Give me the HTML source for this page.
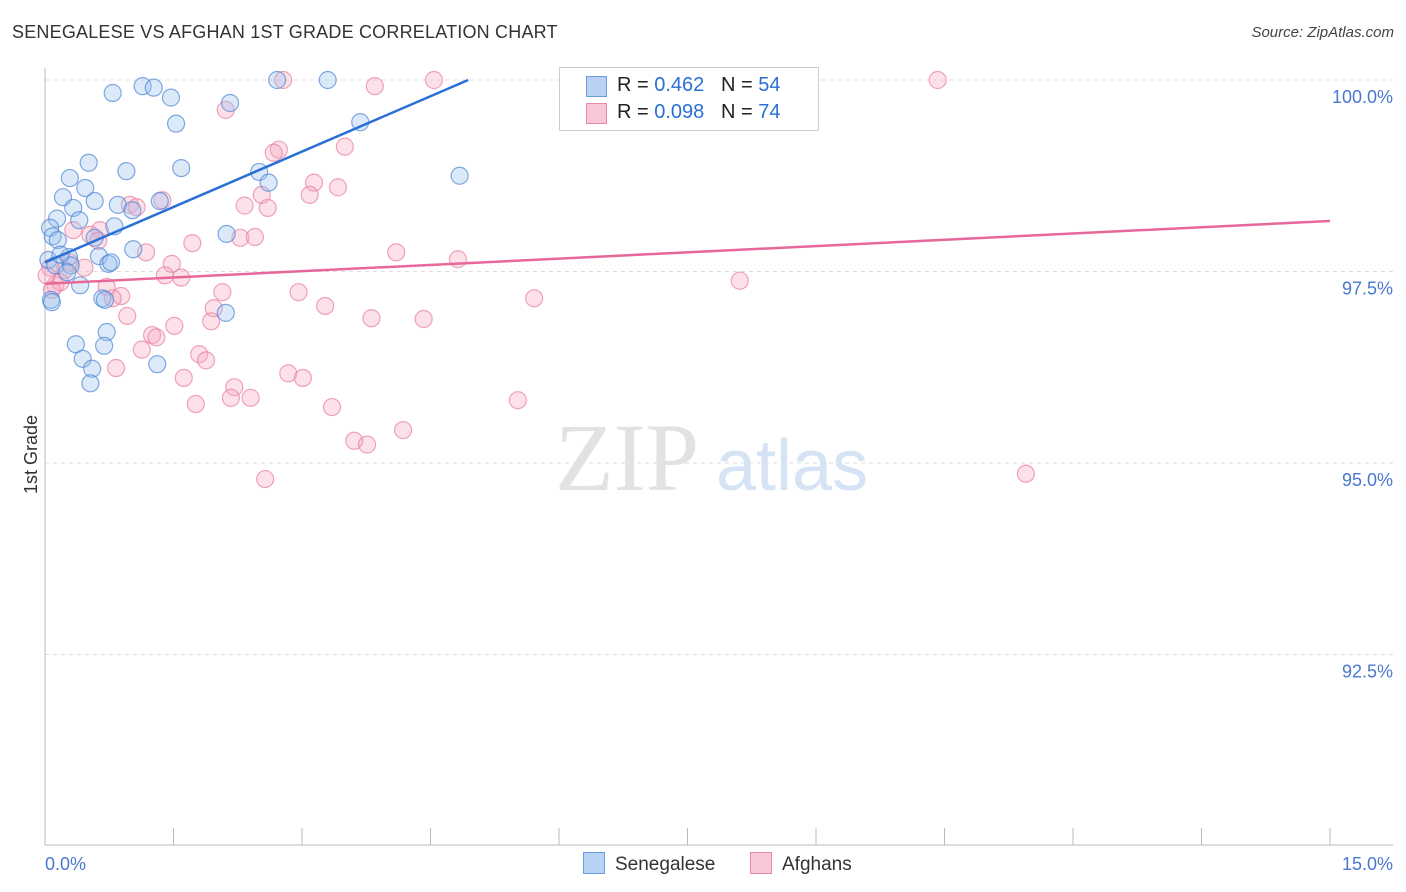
<!DOCTYPE html>
<html><head><meta charset="utf-8">
<style>
body{margin:0;background:#fff;font-family:"Liberation Sans",sans-serif;}
#wrap{position:relative;width:1406px;height:892px;overflow:hidden;}
.t{position:absolute;white-space:nowrap;}
</style></head>
<body>
<div id="wrap">
<div class="t" style="left:12px;top:22px;font-size:18px;color:#333;letter-spacing:0.2px">SENEGALESE VS AFGHAN 1ST GRADE CORRELATION CHART</div>
<div class="t" style="right:12px;top:24px;font-size:15px;color:#444;font-style:italic">Source: ZipAtlas.com</div>
<div class="t" style="left:-8px;top:444px;font-size:18px;color:#333;transform:rotate(-90deg)">1st Grade</div>
<svg id="svg" width="1406" height="892" style="position:absolute;left:0;top:0"></svg>
</div>
<script>
const blueX=[0.79,1.14,1.27,1.47,1.53,2.16,2.71,3.30,3.68,4.84,0.51,0.95,1.59,0.29,0.47,0.21,0.58,0.85,1.02,1.34,0.14,0.33,0.40,0.06,0.09,0.15,0.81,0.58,1.03,2.12,2.50,2.61,0.04,0.28,0.63,0.74,0.77,0.30,0.12,0.41,0.67,0.70,0.07,0.08,2.11,0.72,0.36,0.69,0.44,0.55,0.53,1.31,0.26,0.18];
const blueY=[99.83,99.92,99.90,99.77,99.43,99.70,100,100,99.45,98.75,98.92,98.81,98.85,98.72,98.59,98.47,98.42,98.37,98.30,98.42,98.19,98.33,98.17,98.07,97.96,97.91,98.09,97.94,97.79,97.99,98.80,98.66,97.65,97.69,97.70,97.60,97.62,97.58,97.58,97.32,97.15,97.13,97.13,97.10,96.96,96.71,96.55,96.53,96.36,96.23,96.04,96.29,97.49,97.72];
const pinkX=[2.78,4.54,6.88,8.78,10.42,3.85,2.11,2.73,2.67,3.50,3.14,3.42,3.09,2.53,2.33,2.60,0.99,1.07,1.37,2.28,2.45,1.72,1.18,0.64,0.53,0.33,4.10,4.82,8.11,1.48,1.59,1.40,0.46,0.23,0.06,0.12,0.72,0.89,0.79,2.07,1.97,1.94,2.96,3.27,3.81,4.42,5.71,0.96,1.51,1.25,1.30,1.13,1.80,1.88,0.83,1.62,2.84,3.01,2.21,2.17,2.40,1.76,3.35,5.52,3.61,3.76,4.18,2.57,11.45,0.62,0.18,0.08,0.29,0.02];
const pinkY=[100,100,100,100,100,99.92,99.61,99.09,99.05,99.13,98.66,98.60,98.50,98.50,98.36,98.33,98.37,98.34,98.43,97.94,97.95,97.87,97.75,98.04,97.98,98.04,97.75,97.66,97.38,97.60,97.42,97.45,97.55,97.52,97.55,97.32,97.30,97.18,97.15,97.23,97.02,96.85,97.23,97.05,96.89,96.88,97.15,96.92,96.79,96.67,96.64,96.48,96.42,96.34,96.24,96.11,96.17,96.11,95.99,95.85,95.85,95.77,95.73,95.82,95.29,95.24,95.43,94.79,94.86,97.90,97.36,97.26,97.62,97.45];
const blueTrend=[0,97.62,4.94,100];
const pinkTrend=[0,97.34,15,98.16];
const yTicks=[100,97.5,95,92.5];
const yTickLabels=["100.0%","97.5%","95.0%","92.5%"];
const xTickLabels=["0.0%","15.0%"];

const NS="http://www.w3.org/2000/svg";
const svg=document.getElementById('svg');
const X=v=>45+v*(1285/15);
const Y=v=>80+(100-v)*76.6;
function mk(tag,attrs,parent){const e=document.createElementNS(NS,tag);for(const k in attrs)e.setAttribute(k,attrs[k]);(parent||svg).appendChild(e);return e;}
// gridlines
yTicks.forEach((t,i)=>{
 const g=mk('line',{x1:45,x2:1393,y1:Y(t),y2:Y(t),stroke:'#ddd','stroke-dasharray':'4,4'});
 
 
 const tx=mk('text',{x:1393,y:Y(t)+23,'text-anchor':'end','font-size':18,fill:'#4a78d0','font-family':'Liberation Sans, sans-serif'});
 tx.textContent=yTickLabels[i];
 
 
});
mk('line',{x1:45,x2:45,y1:68,y2:845,stroke:'#bbb'});
mk('line',{x1:45,x2:1393,y1:845,y2:845,stroke:'#bbb'});
for(let i=0;i<=10;i++){
 const tk=mk('line',{x1:X(i*1.5),x2:X(i*1.5),y1:828,y2:845,stroke:'#bbb'});
 
 
}
[[0,'start'],[15,'end']].forEach((p,i)=>{
 const tx=mk('text',{x:i?1393:45,y:870,'text-anchor':p[1],'font-size':18,fill:'#4a78d0','font-family':'Liberation Sans, sans-serif'});
 tx.textContent=xTickLabels[i];
 
 
});
// watermark
const wm=mk('text',{x:555,y:490,'font-size':96,fill:'#e2e2e2','font-family':'Liberation Serif, serif'});wm.textContent='ZIP';


const wm2=mk('text',{x:716,y:490,'font-size':72,fill:'#d6e3f5','font-family':'Liberation Sans, sans-serif'});wm2.textContent='atlas';


function pts(xs,ys,fill,stroke,name){
 xs.forEach((x,i)=>{
  const c=mk('circle',{cx:X(x),cy:Y(ys[i]),r:8.5,fill:fill,'fill-opacity':0.35,stroke:stroke,'stroke-opacity':0.7,'stroke-width':1.2});
  
  
 });
}
pts(pinkX,pinkY,'#f5a8c0','#e87fa0','afghan-point');
pts(blueX,blueY,'#9cc0ee','#4d86d6','senegalese-point');
const bl=mk('line',{x1:X(blueTrend[0]),y1:Y(blueTrend[1]),x2:X(blueTrend[2]),y2:Y(blueTrend[3]),stroke:'#2a6fd6','stroke-width':2.5});


const pl=mk('line',{x1:X(pinkTrend[0]),y1:Y(pinkTrend[1]),x2:X(pinkTrend[2]),y2:Y(pinkTrend[3]),stroke:'#e8679a','stroke-width':2.5});


</script>
<div class="t" style="left:559px;top:67px;width:258px;height:62px;border:1px solid #ccc;background:#fff;font-size:20px;color:#222">
 <div style="position:absolute;left:26px;top:8px;width:19px;height:19px;background:#b8d2f4;border:1px solid #6b9be0"></div>
 <div style="position:absolute;left:57px;top:6px">R = <span style="color:#2a6fd6">0.462</span>&nbsp;&nbsp;&nbsp;N = <span style="color:#2a6fd6">54</span></div>
 <div style="position:absolute;left:26px;top:35px;width:19px;height:19px;background:#f9c6d6;border:1px solid #ea8aaa"></div>
 <div style="position:absolute;left:57px;top:33px">R = <span style="color:#2a6fd6">0.098</span>&nbsp;&nbsp;&nbsp;N = <span style="color:#2a6fd6">74</span></div>
</div>
<div class="t" style="left:583px;top:852px;font-size:19px;color:#333">
 <span style="display:inline-block;width:20px;height:20px;background:#b8d2f4;border:1px solid #6b9be0;vertical-align:-4px;margin-right:10px"></span>Senegalese</div>
<div class="t" style="left:750px;top:852px;font-size:19px;color:#333">
 <span style="display:inline-block;width:20px;height:20px;background:#f9c6d6;border:1px solid #ea8aaa;vertical-align:-4px;margin-right:10px"></span>Afghans</div>
</body></html>
